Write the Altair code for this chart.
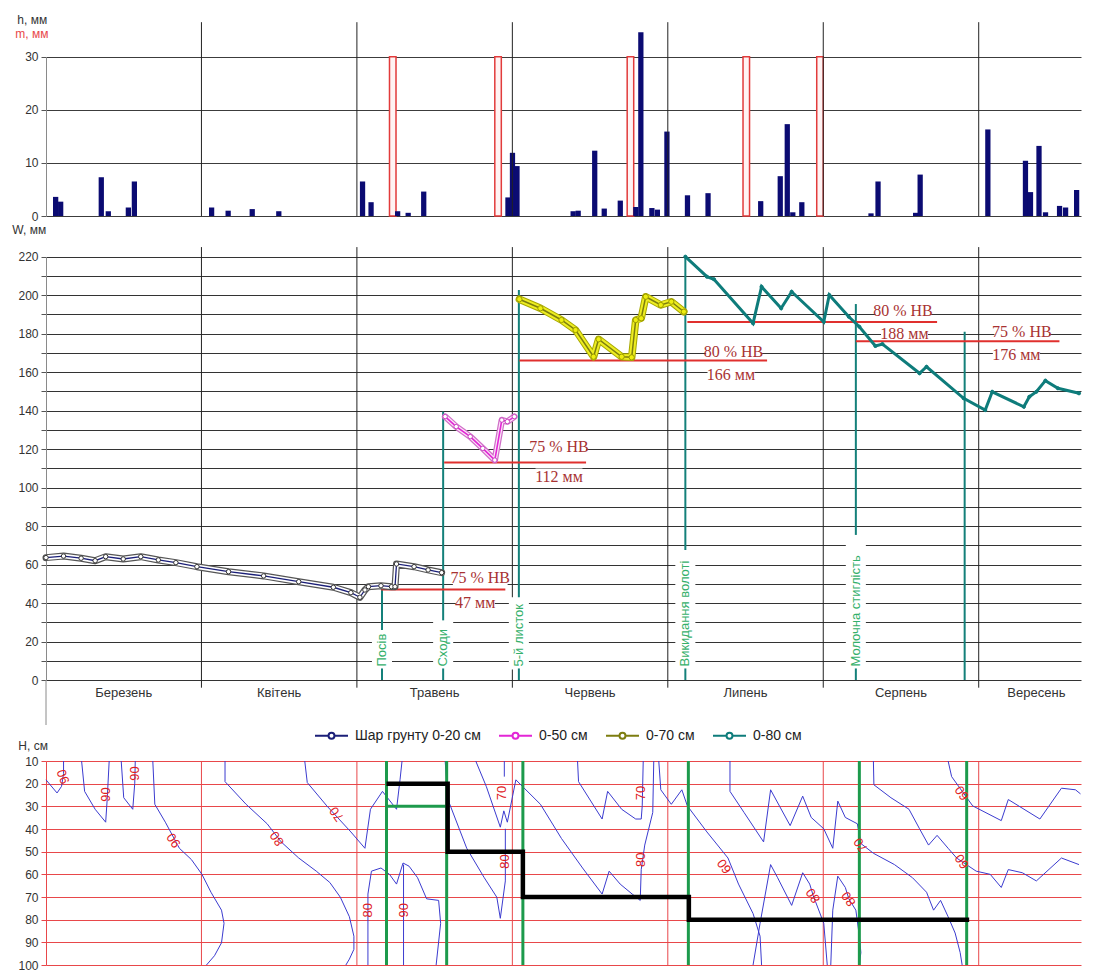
import altair as alt
import pandas as pd

# ---------------- data (x in "slots": each month = 31 slots, 0 = 1 March) ----------------
month_names = ["Березень", "Квітень", "Травень", "Червень", "Липень", "Серпень", "Вересень"]
month_mid = [15.5, 46.5, 77.5, 108.5, 139.5, 170.5, 197.5]
month_bounds = [31, 62, 93, 124, 155, 186]

# precipitation h, mm
rain_x = [1.4, 2.4, 10.5, 11.9, 15.9, 17.1, 32.5, 35.8, 40.6, 45.9, 62.6, 64.3, 69.6, 71.7, 74.8,
          91.6, 92.5, 93.4, 104.6, 105.6, 108.9, 110.8, 114.0, 117.1, 118.1, 120.3, 121.4, 123.3,
          127.4, 131.5, 142.0, 145.9, 147.3, 148.4, 150.2, 164.0, 165.4, 172.9, 173.8, 187.3,
          194.8, 195.8, 197.5, 198.8, 201.6, 202.8, 205.0]
rain_h = [3.6, 2.7, 7.3, 0.9, 1.6, 6.5, 1.6, 1.0, 1.3, 0.9, 6.5, 2.6, 0.9, 0.6, 4.6,
          3.5, 11.9, 9.4, 0.9, 1.0, 12.3, 1.4, 2.9, 1.7, 34.6, 1.5, 1.2, 15.9,
          3.9, 4.3, 2.8, 7.5, 17.3, 0.7, 2.6, 0.5, 6.5, 0.6, 7.8, 16.3,
          10.4, 4.5, 13.2, 0.7, 1.9, 1.6, 4.9]
# irrigation m, mm
irr_x = [68.5, 89.5, 115.9, 139.0, 153.7]
irr_m = [30, 30, 30, 30, 30]

# soil water storage W, mm
series_names = ["Шар грунту 0-20 см", "0-50 см", "0-70 см", "0-80 см"]
s1_x = [0, 3.5, 7.0, 9.8, 11.9, 15.4, 18.9, 22.4, 25.9, 30.1, 36.4, 43.4, 50.4, 57.3, 60.8, 62.6,
        63.6, 64.3, 66.8, 68.9, 69.6, 69.9, 73.4, 76.2, 78.9]
s1_w = [63.6, 64.4, 63.3, 62.0, 64.1, 62.9, 64.1, 62.4, 61.0, 58.9, 56.3, 54.1, 51.1, 48.2, 45.4, 43.0,
        46.8, 48.5, 49.0, 48.5, 48.5, 60.3, 58.9, 57.2, 55.8]
s2_x = [79.6, 81.8, 84.6, 87.1, 89.5, 90.9, 92.0, 93.4]
s2_w = [136.9, 131.7, 126.5, 120.4, 114.3, 135.1, 134.3, 136.9]
s3_x = [94.4, 98.6, 102.8, 105.6, 109.2, 110.2, 114.8, 116.8, 117.6, 118.7, 119.6, 122.6, 124.7, 127.2]
s3_w = [197.9, 193.2, 187.1, 181.9, 168.0, 177.1, 168.0, 167.7, 187.1, 188.0, 199.2, 194.9, 196.6, 191.4]
s4_x = [127.5, 131.8, 133.2, 141.0, 142.7, 146.6, 148.7, 155.1, 156.2, 160.1, 162.2, 165.4, 166.8,
        174.2, 175.6, 183.0, 187.3, 188.7, 195.0, 196.1, 197.5, 199.3, 201.8, 206.0]
s4_w = [220.0, 209.6, 208.3, 185.4, 204.4, 193.2, 201.8, 186.2, 200.1, 188.8, 183.6, 173.6, 174.6,
        159.4, 162.8, 146.4, 140.3, 149.8, 142.0, 147.2, 149.8, 155.6, 151.6, 149.0]

# thresholds
thr_level = [47, 113, 166, 186, 176]
thr_x0 = [66.8, 79.4, 94.4, 127.9, 161.5]
thr_x1 = [91.6, 107.7, 143.8, 177.7, 202.1]
thr_pct = ["75 % НВ", "75 % НВ", "80 % НВ", "80 % НВ", "75 % НВ"]
thr_pct_x = [86.6, 102.3, 137.1, 170.9, 194.6]
thr_pct_w = [53.0, 121.1, 170.6, 192.0, 180.7]
thr_mm = ["47 мм", "112 мм", "166 мм", "188 мм", "176 мм"]
thr_mm_x = [85.6, 102.3, 136.6, 171.2, 193.5]
thr_mm_w = [40.2, 105.7, 158.5, 179.7, 168.9]

# phenological phases
phase_names = ["Посів", "Сходи", "5-й листок", "Викидання волоті", "Молочна стиглість", ""]
phase_x_mid = [67.0, 79.2, 94.3, 127.5, 161.5, 183.2]
phase_top = [47, 139.5, 202.7, 220, 195.4, 181]
phase_label_top = [26, 31, 43, 67.6, 75.4, 0]
phase_x_bot = [67.9, 79.9, 95.1, 128.1, 162.2, 183.6]

# root layer depth (cm)
root_x = [67.9, 80.1, 80.1, 95.1, 95.1, 128.2, 128.2, 184.1]
root_h = [20, 20, 50, 50, 70, 70, 80, 80]

# moisture isolines (% НВ) in the soil profile
contours = {
    "c1": ([0, 2.2, 3.1, 3.5, 3.5], [18.3, 24.1, 21.2, 15.5, 10]),
    "c2": ([7.1, 7.7, 9.8, 11.9, 12.2, 12.6], [10, 23.4, 31.3, 37.0, 27.0, 10]),
    "c3": ([15.0, 15.5, 17.3, 17.7, 17.8], [10, 26.2, 31.3, 19.8, 10]),
    "c4": ([21.3, 21.7, 23.8, 26.6, 29.0, 31.1, 32.9, 35.0, 35.5, 35.0, 33.6, 32.0],
           [10, 29.1, 37.0, 48.5, 53.5, 60.0, 67.9, 75.8, 81.6, 90.2, 95.9, 100]),
    "c5": ([35.7, 35.7, 39.9, 44.1, 46.9, 50.4, 53.9, 56.6, 58.7, 60.5, 61.4, 61.4, 60.5, 59.8],
           [10, 19.1, 29.1, 37.7, 45.7, 52.8, 58.6, 63.6, 70.1, 78.7, 87.3, 93.1, 97.4, 100]),
    "c6": ([51.6, 52.1, 56.0, 60.8, 63.6, 64.7, 67.1, 69.9, 70.6, 71.0],
           [10, 19.5, 29.8, 41.3, 48.5, 31.3, 23.4, 31.3, 18.3, 10]),
    "c7": ([64.2, 64.2, 64.9, 66.8, 68.5, 69.9, 71.2, 72.4, 74.1, 75.9, 78.3, 78.7, 77.8],
           [100, 68.7, 58.6, 57.2, 60.0, 64.3, 55.0, 56.4, 61.5, 70.8, 71.5, 81.6, 100]),
    "c8": ([71.3, 71.3], [55.7, 100]),
    "c9": ([85.7, 87.8, 90.6, 91.3, 92.0, 93.7, 98.6, 102.8, 107.0, 110.9, 112.3, 114.5, 116.9, 118.5],
           [10, 21.2, 39.2, 32.0, 37.0, 18.3, 29.1, 44.2, 57.2, 68.7, 58.6, 64.3, 68.7, 71.5]),
    "c10": ([79.6, 80.0, 80.4, 83.9, 87.4, 89.9, 90.6, 91.6, 91.6],
            [10, 22.0, 28.4, 48.5, 61.5, 70.1, 79.4, 62.9, 39.9]),
    "c10b": ([91.4, 91.4], [10, 16.9]),
    "c11": ([106.0, 106.2, 110.9, 112.0, 114.8, 117.6, 118.7, 118.9, 119.1],
            [10, 19.1, 35.6, 23.4, 31.3, 35.6, 35.6, 29.8, 10]),
    "c12": ([121.2, 121.0, 119.4, 118.7, 118.5], [10, 32.7, 47.1, 57.9, 71.5]),
    "c13": ([122.2, 122.6, 124.7, 126.8, 127.9, 131.8, 136.0, 138.1, 141.0, 142.4, 142.7],
            [10, 22.7, 29.1, 22.7, 29.8, 41.3, 52.8, 64.3, 77.3, 87.3, 100]),
    "c14": ([136.4, 136.4, 139.2, 143.1, 144.5, 148.4, 150.9, 152.6, 155.1, 156.9, 157.9, 159.4, 161.8,
             162.5, 165.0, 169.2, 172.8, 175.6, 177.0, 178.4, 179.9, 181.3, 182.3, 182.7],
            [10, 23.4, 32.7, 45.7, 22.7, 38.5, 25.5, 34.9, 39.9, 48.5, 27.7, 34.9, 37.7,
             46.4, 50.7, 55.7, 61.5, 67.9, 75.8, 71.5, 78.7, 85.9, 94.5, 100]),
    "c15": ([165.0, 165.1, 168.5, 172.1, 174.2, 176.0, 177.7, 179.9, 181.6, 185.5, 188.3, 190.5, 191.9,
             194.7, 197.5, 202.5, 206.0],
            [10, 20.5, 26.2, 31.3, 39.9, 47.1, 42.8, 48.5, 52.8, 58.6, 60.0, 65.8, 57.9,
             59.3, 62.9, 52.8, 55.7]),
    "c16": ([179.9, 180.6, 184.8, 190.5, 191.9, 198.2, 202.5, 205.3, 206.3],
            [10, 16.9, 29.8, 36.3, 27.0, 35.6, 22.0, 22.7, 24.5]),
    "c17": ([141.0, 142.4, 144.5, 145.9, 148.7, 150.9, 152.3, 153.0, 155.1, 155.8],
            [100, 81.6, 55.7, 61.5, 73.7, 59.3, 64.3, 69.4, 81.6, 100]),
    "c18": ([156.5, 156.9, 157.9, 159.4, 160.1, 161.5, 162.2, 162.5, 162.2],
            [100, 75.8, 60.8, 65.8, 70.8, 75.8, 87.3, 94.5, 100]),
}
clab_x = [3.5, 11.9, 17.8, 25.5, 46.1, 58.0, 64.2, 71.3, 90.9, 91.6, 118.7, 118.7, 135.3, 153.0,
          160.1, 162.5, 182.7, 182.7]
clab_h = [16.9, 24.8, 15.5, 45.0, 44.2, 33.4, 75.8, 75.8, 24.1, 54.3, 24.1, 53.6, 56.4, 69.4,
          70.8, 47.1, 24.1, 54.3]
clab_t = ["90", "90", "90", "90", "80", "70", "80", "90", "70", "80", "70", "80", "60", "80",
          "80", "70", "60", "60"]
clab_a = [250, 270, 270, 235, 235, 235, 270, 270, 270, 270, 270, 270, 235, 235,
          235, 235, 235, 235]

# ---------------- scales / styles ----------------
FONT = "Liberation Sans"
SERIF = "Liberation Serif"
xs = alt.Scale(domain=[0, 206.4], nice=False, zero=False)
top_sc = alt.Scale(domain=[0, 30], range=[206, 46.7], nice=False, zero=False)
mid_sc = alt.Scale(domain=[0, 220], range=[670, 246.7], nice=False, zero=False)
bot_sc = alt.Scale(domain=[10, 100], range=[751, 955], nice=False, zero=False)


def X(f):
    return alt.X(f, type="quantitative", scale=xs, axis=None)


axis_common = dict(orient="left", title=None, grid=True, gridWidth=1, tickSize=5,
                   labelFont=FONT, labelFontSize=12, labelColor="#333", labelPadding=3)
top_axis = alt.Axis(values=[0, 10, 20, 30], gridColor="#3c3c3c", domainColor="#8a8a8a",
                    tickColor="#555", **axis_common)
mid_axis = alt.Axis(values=list(range(0, 221, 10)),
                    labelExpr="datum.value % 20 == 0 ? datum.label : ''",
                    gridColor="#333", domainColor="#8a8a8a", tickColor="#555", **axis_common)
bot_axis = alt.Axis(values=list(range(10, 101, 10)), gridColor="#e8474a", domainColor="#e8474a",
                    tickColor="#e8474a", **axis_common)

layers = []

# ---------------- top panel ----------------
irr_df = pd.DataFrame({"x": irr_x, "m": irr_m})
layers.append(
    alt.Chart(irr_df).transform_calculate(x2="datum.x + 1.3")
    .mark_rect(fill="#fff3f3", stroke="#e23b3b", strokeWidth=1.5)
    .encode(x=X("x"), x2=alt.X2("x2"), y=alt.Y("m:Q", scale=top_sc, axis=top_axis), y2=alt.Y2Datum(0))
)
rain_df = pd.DataFrame({"x": rain_x, "h": rain_h})
layers.append(
    alt.Chart(rain_df).transform_calculate(x2="datum.x + 1.05")
    .mark_rect(color="#0b0b72")
    .encode(x=X("x"), x2=alt.X2("x2"), y=alt.Y("h:Q", scale=top_sc, axis=None), y2=alt.Y2Datum(0))
)
mb_df = pd.DataFrame({"x": month_bounds})
layers.append(
    alt.Chart(mb_df).mark_rule(color="#222", strokeWidth=1)
    .encode(x=X("x"), y=alt.YDatum(0, type="quantitative", scale=top_sc, axis=None), y2=alt.Y2Datum(36.5))
)

# ---------------- middle panel ----------------
layers.append(
    alt.Chart(mb_df).mark_rule(color="#222", strokeWidth=1)
    .encode(x=X("x"), y=alt.YDatum(-4, type="quantitative", scale=mid_sc, axis=mid_axis), y2=alt.Y2Datum(225))
)
layers.append(
    alt.Chart(pd.DataFrame({"a": [0]})).mark_rule(color="#8a8a8a", strokeWidth=1)
    .encode(x=alt.value(0), y=alt.value(670), y2=alt.value(715))
)
# white boxes behind phase names
mask_df = pd.DataFrame({"x": phase_x_mid[:5], "top": phase_label_top[:5]})
layers.append(
    alt.Chart(mask_df).transform_calculate(xa="datum.x - 2", xb="datum.x + 2", bot="5.5")
    .mark_rect(color="white")
    .encode(x=X("xa"), x2=alt.X2("xb"), y=alt.Y("bot:Q", scale=mid_sc, axis=None), y2=alt.Y2("top"))
)
# white boxes behind threshold labels
lab_df = pd.DataFrame({"x": thr_pct_x + thr_mm_x, "w": thr_pct_w + thr_mm_w, "t": thr_pct + thr_mm})
layers.append(
    alt.Chart(lab_df)
    .transform_calculate(xa="datum.x - length(datum.t) * 0.78", xb="datum.x + length(datum.t) * 0.78",
                         wa="datum.w - 4.2", wb="datum.w + 4.2")
    .mark_rect(color="white")
    .encode(x=X("xa"), x2=alt.X2("xb"), y=alt.Y("wa:Q", scale=mid_sc, axis=None), y2=alt.Y2("wb"))
)
# phase vertical segments
seg_rows = []
for px, top, lt, nm in zip(phase_x_mid, phase_top, phase_label_top, phase_names):
    if nm:
        seg_rows.append({"x": px, "y0": 0, "y1": 6})
        seg_rows.append({"x": px, "y0": lt, "y1": top})
    else:
        seg_rows.append({"x": px, "y0": 0, "y1": top})
layers.append(
    alt.Chart(pd.DataFrame(seg_rows)).mark_rule(color="#14807a", strokeWidth=2)
    .encode(x=X("x"), y=alt.Y("y0:Q", scale=mid_sc, axis=None), y2=alt.Y2("y1"))
)
# thresholds
thr_df = pd.DataFrame({"x0": thr_x0, "x1": thr_x1, "w": thr_level})
layers.append(
    alt.Chart(thr_df).mark_rule(color="#e0302e", strokeWidth=2)
    .encode(x=X("x0"), x2=alt.X2("x1"), y=alt.Y("w:Q", scale=mid_sc, axis=None))
)

# series
rows = []
for name, xsr, wsr in zip(series_names, [s1_x, s2_x, s3_x, s4_x], [s1_w, s2_w, s3_w, s4_w]):
    for i, (a, b) in enumerate(zip(xsr, wsr)):
        rows.append({"series": name, "x": a, "w": b, "i": i})
ser_df = pd.DataFrame(rows)
series_colors = ["#1b1f78", "#e326d6", "#7d7d10", "#0e7c7b"]
line_widths = [1.3, 1.6, 1.5, 3]
# marker "bands" (dense markers in the original) drawn under the lines
band_styles = [
    [("#555555", 7), ("white", 4.6)],
    [("#d070c8", 6.5), ("#fbe6f8", 4)],
    [("#a8a800", 7.5), ("#eded22", 5.5)],
    [],
]
for name, bands in zip(series_names, band_styles):
    for col, wdt in bands:
        layers.append(
            alt.Chart(ser_df).transform_filter(alt.datum.series == name)
            .mark_line(color=col, strokeWidth=wdt, strokeJoin="round", strokeCap="round")
            .encode(x=X("x"), y=alt.Y("w:Q", scale=mid_sc, axis=None), order="i:Q")
        )
legend = alt.Legend(orient="none", legendX=268, legendY=708, direction="horizontal", title=None,
                    symbolType="M-1,0H-0.18M0.18,0H1M0.18,0A0.18,0.18,0,1,1,-0.18,0A0.18,0.18,0,1,1,0.18,0",
                    symbolSize=1089, symbolStrokeWidth=2, symbolFillColor="white",
                    labelFont=FONT, labelFontSize=14, labelColor="#222", columnPadding=14,
                    labelOffset=6, padding=0)
color_enc = alt.Color("series:N", scale=alt.Scale(domain=series_names, range=series_colors), legend=legend)
for name, lw in zip(series_names, line_widths):
    layers.append(
        alt.Chart(ser_df).transform_filter(alt.datum.series == name)
        .mark_line(strokeWidth=lw)
        .encode(x=X("x"), y=alt.Y("w:Q", scale=mid_sc, axis=None), color=color_enc, order="i:Q")
    )
point_styles = [
    dict(fill="white", stroke="#333", size=20, strokeWidth=1),
    dict(fill="white", stroke="#c845c0", size=20, strokeWidth=1),
    dict(fill="#eeee10", stroke="#9a9a00", size=28, strokeWidth=1),
    dict(fill="#0e7c7b", stroke="#0e7c7b", size=10, strokeWidth=1),
]
for name, st in zip(series_names, point_styles):
    layers.append(
        alt.Chart(ser_df).transform_filter(alt.datum.series == name)
        .mark_point(shape="circle", filled=True, opacity=1, **st)
        .encode(x=X("x"), y=alt.Y("w:Q", scale=mid_sc, axis=None))
    )

# threshold labels
layers.append(
    alt.Chart(lab_df).mark_text(font=SERIF, fontSize=16, color="#a83232", align="center", baseline="middle")
    .encode(x=X("x"), y=alt.Y("w:Q", scale=mid_sc, axis=None), text="t:N")
)
# phase labels
pl_df = pd.DataFrame({"x": phase_x_mid[:5], "t": phase_names[:5]})
layers.append(
    alt.Chart(pl_df).mark_text(font=FONT, fontSize=13, color="#34b06a", align="left", baseline="middle", angle=270)
    .encode(x=X("x"), y=alt.YDatum(7, type="quantitative", scale=mid_sc, axis=None), text="t:N")
)
# month labels
ml_df = pd.DataFrame({"x": month_mid, "t": month_names})
layers.append(
    alt.Chart(ml_df).mark_text(font=FONT, fontSize=13, color="#333", align="center", baseline="middle")
    .encode(x=X("x"), y=alt.value(683), text="t:N")
)

# ---------------- bottom panel ----------------
layers.append(
    alt.Chart(mb_df).mark_rule(color="#e8474a", strokeWidth=1)
    .encode(x=X("x"), y=alt.YDatum(10, type="quantitative", scale=bot_sc, axis=bot_axis), y2=alt.Y2Datum(100))
)
crow = []
for cid, (cx, ch) in contours.items():
    for i, (a, b) in enumerate(zip(cx, ch)):
        crow.append({"id": cid, "x": a, "h": b, "i": i})
layers.append(
    alt.Chart(pd.DataFrame(crow)).mark_line(color="#3b3bcf", strokeWidth=1)
    .encode(x=X("x"), y=alt.Y("h:Q", scale=bot_sc, axis=None), detail="id:N", order="i:Q")
)
layers.append(
    alt.Chart(pd.DataFrame({"x": phase_x_bot})).mark_rule(color="#1d9a4c", strokeWidth=3)
    .encode(x=X("x"), y=alt.YDatum(10, type="quantitative", scale=bot_sc, axis=None), y2=alt.Y2Datum(100))
)
layers.append(
    alt.Chart(pd.DataFrame({"x0": [phase_x_bot[0]], "x1": [phase_x_bot[1]], "h": [30]}))
    .mark_rule(color="#1d9a4c", strokeWidth=3)
    .encode(x=X("x0"), x2=alt.X2("x1"), y=alt.Y("h:Q", scale=bot_sc, axis=None))
)
root_df = pd.DataFrame({"x": root_x, "h": root_h, "i": list(range(len(root_x)))})
layers.append(
    alt.Chart(root_df).mark_line(color="black", strokeWidth=4.5)
    .encode(x=X("x"), y=alt.Y("h:Q", scale=bot_sc, axis=None), order="i:Q")
)
cl_df = pd.DataFrame({"x": clab_x, "h": clab_h, "t": clab_t, "a": clab_a})
layers.append(
    alt.Chart(cl_df).mark_text(font=FONT, fontSize=13, color="#e0201e", align="center", baseline="middle")
    .encode(x=X("x"), y=alt.Y("h:Q", scale=bot_sc, axis=None), text="t:N", angle=alt.Angle("a:Q", scale=None))
)

# ---------------- axis titles ----------------
one = pd.DataFrame({"a": [0]})
for txt, px, py, col in [("h, мм", -28.7, 10, "#333"), ("m, мм", -30.7, 24, "#e8474a"),
                         ("W, мм", -33.7, 220, "#333"), ("H, см", -27.7, 736, "#333")]:
    layers.append(
        alt.Chart(one).mark_text(font=FONT, fontSize=12, color=col, align="left", baseline="middle", text=txt)
        .encode(x=alt.value(px), y=alt.value(py))
    )

chart = (
    alt.layer(*layers)
    .resolve_scale(y="independent")
    .properties(width=1035, height=964, autosize=alt.AutoSizeParams(type="none"),
                padding={"left": 38, "top": 2, "right": 5, "bottom": 0})
    .configure_view(stroke=None)
)
chart.save("out.html", embed_options={"renderer": "svg", "actions": False})
